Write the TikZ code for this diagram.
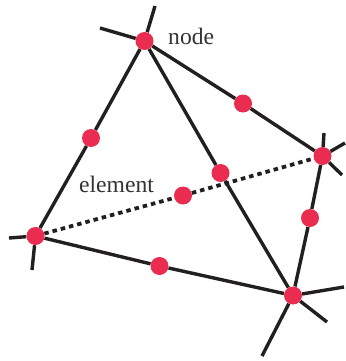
\documentclass[tikz,border=0pt]{standalone}
\usepackage{xcolor}
\usepackage{fontspec}
\setmainfont{Liberation Serif}
\usetikzlibrary{backgrounds}
\definecolor{meshink}{HTML}{231F20}
\definecolor{meshnode}{HTML}{E92C50}
\definecolor{meshtext}{HTML}{333333}
\tikzset{
  dot/.style   = {circle, fill=meshnode, draw=none, minimum size=18pt, inner sep=0pt},
  link/.style  = {draw=meshink, line width=3.4pt},
  hidden/.style = {draw=meshink, line width=3.8pt, dash pattern=on 4.5pt off 4pt},
  lbl/.style   = {font=\fontsize{23.6}{26}\selectfont, text=meshtext, inner sep=0pt, anchor=base west},
}
\begin{document}
\begin{tikzpicture}[x=1pt,y=-1pt]
\useasboundingbox (0,0) rectangle (345,361);
% corners of the element
\node[dot] (top) at (144.5,41) {};
\node[dot] (left) at (35.5,236) {};
\node[dot] (low) at (293,295.5) {};
\node[dot] (right) at (322.5,156) {};
% mid-edge points
\node[dot] (topleft) at (91,138) {};
\node[dot] (topright) at (243,103.5) {};
\node[dot] (toplow) at (220.5,173) {};
\node[dot] (leftright) at (183,195.5) {};
\node[dot] (leftlow) at (159.5,266) {};
\node[dot] (lowright) at (310,218) {};
% free ends of the neighbouring edges
\coordinate (topa) at (100,28);
\coordinate (topb) at (155,6);
\coordinate (lefta) at (9,238);
\coordinate (leftb) at (32,270);
\coordinate (lowa) at (262,356);
\coordinate (lowb) at (327,322);
\coordinate (lowc) at (344,287);
\coordinate (righta) at (324,133);
\coordinate (rightb) at (345,143);
\coordinate (rightc) at (342,175);
\node[lbl] (nodelbl) at (168,45) {node};
\node[lbl] (elementlbl) at (79,192) {element};
\begin{scope}[on background layer]
\draw[link] (top) -- (topleft);
\draw[link] (topleft) -- (left);
\draw[link] (top) -- (topright);
\draw[link] (topright) -- (right);
\draw[link] (top) -- (toplow);
\draw[link] (toplow) -- (low);
\draw[link] (left) -- (leftlow);
\draw[link] (leftlow) -- (low);
\draw[link] (low) -- (lowright);
\draw[link] (lowright) -- (right);
\draw[hidden] (left) -- (leftright);
\draw[hidden] (leftright) -- (right);
\draw[link] (top) -- (topa);
\draw[link] (top) -- (topb);
\draw[link] (left) -- (lefta);
\draw[link] (left) -- (leftb);
\draw[link] (low) -- (lowa);
\draw[link] (low) -- (lowb);
\draw[link] (low) -- (lowc);
\draw[link] (right) -- (righta);
\draw[link] (right) -- (rightb);
\draw[link] (right) -- (rightc);
\end{scope}
\end{tikzpicture}
\end{document}
